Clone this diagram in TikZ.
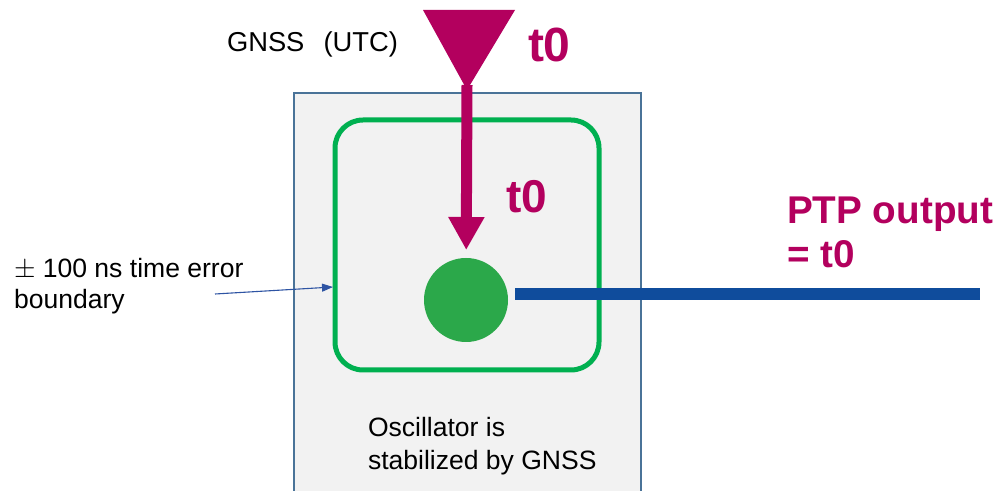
\documentclass[tikz,border=0pt]{standalone}
\usepackage{fontspec}
\setmainfont{Liberation Sans}
\usetikzlibrary{arrows.meta}
\newcommand\pxl{0.75pt}
\definecolor{ptpmagenta}{HTML}{B3005E}
\definecolor{boundgreen}{HTML}{00B050}
\definecolor{oscgreen}{HTML}{2BA84A}
\definecolor{ptpblue}{HTML}{0F4C9C}
\definecolor{boxfill}{HTML}{F2F2F2}
\definecolor{boxline}{HTML}{4A7398}
\definecolor{notearrow}{HTML}{2E54A3}
\begin{document}
\begin{tikzpicture}[x=0.75pt,y=-0.75pt,
  bodytext/.style={inner sep=0pt, outer sep=0pt, anchor=base west, align=left,
    text=black, font=\fontsize{19.9}{23.25}\selectfont},
  timelabel/.style={inner sep=0pt, outer sep=0pt, anchor=base west,
    text=ptpmagenta, font=\bfseries\fontsize{#1}{#1}\selectfont},
  timelabel/.default=36]
\useasboundingbox (0,0) rectangle (1000,491);
\fill[white] (0,0) rectangle (1000,491);

% clock unit
\filldraw[fill=boxfill, draw=boxline, line width=1.2*\pxl] (294,93) rectangle (641,493);

% time error boundary
\node[draw=boundgreen, line width=5*\pxl, rounded corners=28*\pxl, rectangle,
      minimum width=264*\pxl, minimum height=250*\pxl, inner sep=0pt, outer sep=0pt]
      (bound) at (467,245) {};

% GNSS time source
\fill[ptpmagenta] (423,10) -- (515,10) -- (467,90) -- cycle;
\coordinate (gnssapex) at (467,85);
\node[timelabel=36] (t0top) at (528,62) {t0};
\node[bodytext, font=\fontsize{20.5}{24}\selectfont] (gnsslabel) at (227,52)
      {GNSS\hspace{0.7em}(UTC)};

% oscillator
\node[circle, fill=oscgreen, minimum size=84*\pxl, inner sep=0pt, outer sep=0pt]
      (osc) at (466,300) {};

% time transfer into the oscillator
\draw[ptpmagenta, line width=11*\pxl, -{Triangle[width=34*\pxl,length=33*\pxl]},
      shorten >=8*\pxl] (gnssapex) -- (osc);
\node[timelabel=34.5] (t0in) at (506,213) {t0};

% PTP output
\coordinate (ptpstart) at (515,294);
\coordinate (ptpend) at (980,294);
\draw[ptpblue, line width=12*\pxl] (ptpstart) -- (ptpend);
\node[timelabel=29, align=left] (ptplabel) at (787,268) {PTP output\\[4pt]= t0};

% boundary note (anchored on the baseline of its last line)
\node[bodytext] (bndlabel) at (14,309) {$\pm$ 100 ns time error\\boundary};
\coordinate (bndstart) at (215,294);
\coordinate (bndend) at (333,287);
\draw[notearrow, line width=1.1*\pxl, -{Triangle[width=8*\pxl,length=11*\pxl]}]
      (bndstart) -- (bndend);

% oscillator note
\node[bodytext, font=\fontsize{19.9}{24.75}\selectfont] (osclabel) at (368,470)
      {Oscillator is\\stabilized by GNSS};
\end{tikzpicture}
\end{document}
